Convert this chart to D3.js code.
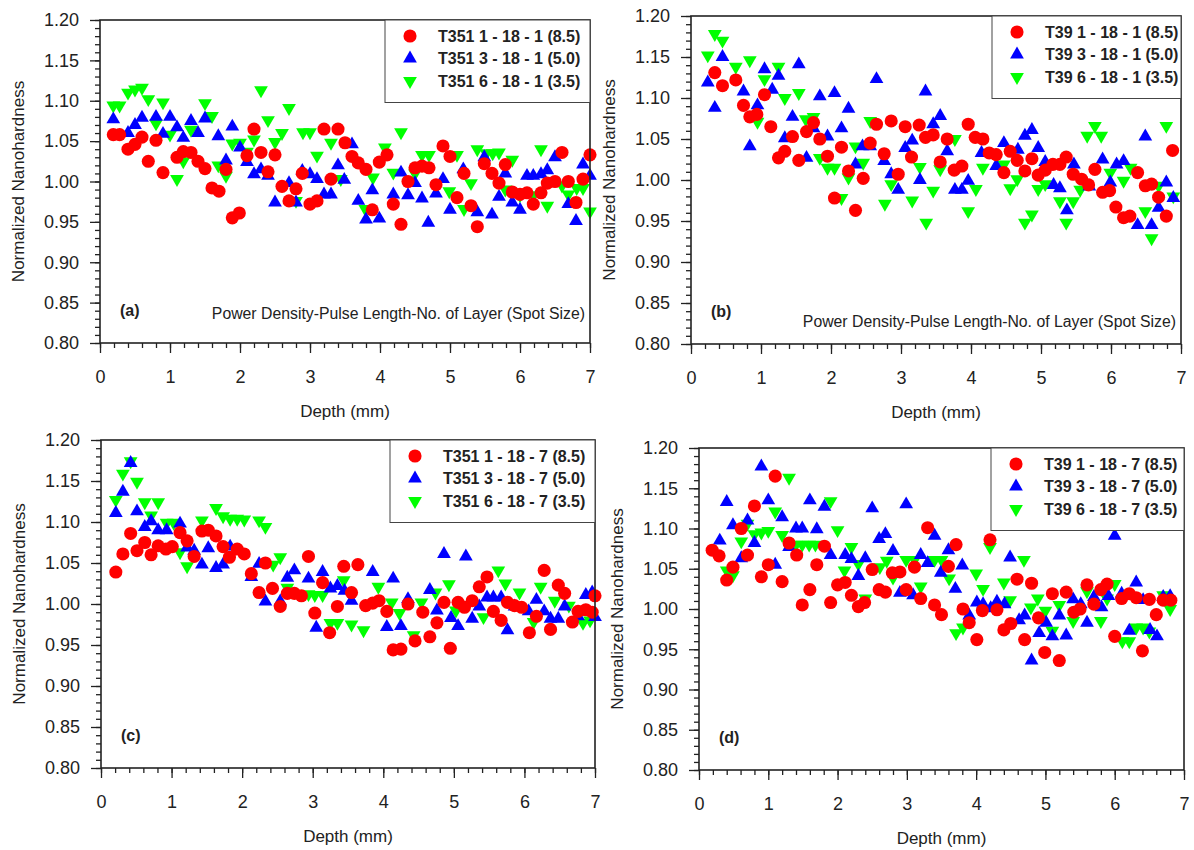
<!DOCTYPE html>
<html>
<head>
<meta charset="utf-8">
<script src="https://cdn.jsdelivr.net/npm/d3@7"></script>
<style>
  body { margin: 0; background: #fff; }
  svg { font-family: "Liberation Sans", Arial, sans-serif; }
</style>
</head>
<body>
<svg id="chart" width="1194" height="850"></svg>
<script>
// depth (mm), normalized nanohardness
const aRed = [[0.19,1.058],[0.28,1.058],[0.40,1.040],[0.50,1.046],[0.60,1.055],[0.69,1.025],[0.80,1.051],[0.90,1.011],[1.10,1.030],[1.19,1.037],[1.30,1.036],[1.40,1.025],[1.50,1.016],[1.60,0.992],[1.70,0.988],[1.80,1.015],[1.89,0.955],[1.99,0.961],[2.10,1.032],[2.20,1.065],[2.30,1.036],[2.40,1.012],[2.50,1.033],[2.60,0.994],[2.70,0.976],[2.80,0.991],[2.89,1.010],[3.00,0.972],[3.10,0.976],[3.20,1.065],[3.30,1.003],[3.40,1.065],[3.50,1.048],[3.60,1.031],[3.69,1.023],[3.80,1.015],[3.89,0.965],[3.99,1.024],[4.10,1.033],[4.19,0.972],[4.30,0.947],[4.40,1.000],[4.50,1.017],[4.60,1.019],[4.70,1.017],[4.80,0.996],[4.90,1.044],[5.00,1.031],[5.10,0.980],[5.20,1.010],[5.30,0.970],[5.39,0.944],[5.49,1.022],[5.60,1.010],[5.70,0.998],[5.79,1.021],[5.89,0.987],[6.00,0.984],[6.10,0.986],[6.19,0.972],[6.30,0.986],[6.39,0.998],[6.50,1.000],[6.60,1.036],[6.69,1.000],[6.80,0.974],[6.90,1.003],[7.00,1.033]];
const aBlue = [[0.19,1.077],[0.40,1.060],[0.50,1.070],[0.60,1.079],[0.80,1.080],[0.90,1.059],[1.00,1.080],[1.10,1.067],[1.19,1.054],[1.30,1.075],[1.40,1.060],[1.50,1.078],[1.69,1.056],[1.80,1.026],[1.89,1.068],[2.00,1.042],[2.10,1.024],[2.20,1.009],[2.30,1.015],[2.40,1.007],[2.50,0.974],[2.70,0.998],[2.80,0.974],[2.89,1.013],[3.00,1.009],[3.10,1.003],[3.20,0.984],[3.30,0.984],[3.40,1.020],[3.49,1.002],[3.60,1.046],[3.69,0.976],[3.80,0.953],[3.89,0.989],[3.99,0.954],[4.19,0.984],[4.30,1.011],[4.40,0.983],[4.50,0.998],[4.60,0.979],[4.69,0.949],[4.80,0.985],[4.90,1.003],[5.00,0.965],[5.19,1.015],[5.39,0.962],[5.49,1.030],[5.60,0.959],[5.70,0.981],[5.79,1.010],[5.89,0.974],[6.00,0.965],[6.10,1.007],[6.19,1.007],[6.30,1.009],[6.39,1.014],[6.50,1.030],[6.69,0.972],[6.80,0.951],[6.90,1.021],[7.00,1.007]];
const aGreen = [[0.19,1.094],[0.28,1.094],[0.40,1.110],[0.50,1.114],[0.60,1.116],[0.69,1.102],[0.80,1.072],[0.90,1.098],[1.00,1.058],[1.10,1.003],[1.19,1.025],[1.30,1.064],[1.50,1.097],[1.60,1.081],[1.69,1.020],[1.80,1.007],[1.89,1.047],[2.00,1.048],[2.10,1.037],[2.20,1.052],[2.30,1.113],[2.40,1.076],[2.50,1.049],[2.60,1.060],[2.70,1.091],[2.80,0.976],[2.90,1.061],[3.00,1.061],[3.10,1.032],[3.30,1.048],[3.44,1.003],[3.79,0.966],[3.90,1.005],[4.07,1.042],[4.19,1.011],[4.30,1.061],[4.50,1.010],[4.60,1.033],[4.70,1.033],[4.99,0.988],[5.10,1.033],[5.20,0.966],[5.30,0.998],[5.39,1.040],[5.52,1.035],[5.61,1.035],[5.70,1.036],[5.79,0.990],[5.89,1.027],[6.00,0.983],[6.19,0.983],[6.30,1.040],[6.39,0.970],[6.60,0.995],[6.69,0.984],[6.81,0.992],[6.90,0.992],[7.00,0.963]];

const bRed = [[0.34,1.131],[0.45,1.115],[0.64,1.122],[0.75,1.091],[0.84,1.077],[0.94,1.080],[1.05,1.104],[1.14,1.065],[1.25,1.027],[1.34,1.035],[1.45,1.053],[1.54,1.024],[1.65,1.059],[1.75,1.070],[1.84,1.050],[1.95,1.029],[2.05,0.978],[2.15,1.040],[2.25,1.011],[2.35,0.963],[2.46,1.002],[2.56,1.045],[2.65,1.068],[2.76,1.032],[2.86,1.072],[2.96,1.007],[3.06,1.065],[3.15,1.028],[3.26,1.067],[3.35,1.052],[3.46,1.055],[3.56,1.022],[3.66,1.050],[3.76,1.012],[3.87,1.017],[3.96,1.068],[4.06,1.052],[4.17,1.050],[4.26,1.033],[4.36,1.031],[4.47,1.009],[4.56,1.035],[4.66,1.024],[4.77,1.011],[4.87,1.026],[4.96,1.006],[5.06,1.012],[5.17,1.019],[5.27,1.019],[5.36,1.028],[5.46,1.007],[5.58,1.001],[5.68,0.994],[5.77,1.013],[5.88,0.985],[5.98,0.987],[6.07,0.967],[6.18,0.954],[6.27,0.956],[6.38,1.009],[6.49,0.993],[6.58,0.995],[6.68,0.979],[6.79,0.956],[6.88,1.036]];
const bBlue = [[0.24,1.119],[0.34,1.088],[0.45,1.150],[0.75,1.108],[0.84,1.041],[0.95,1.091],[1.05,1.135],[1.16,1.110],[1.25,1.127],[1.34,1.051],[1.45,1.077],[1.54,1.141],[1.65,1.027],[1.75,1.063],[1.84,1.102],[1.95,1.053],[2.05,1.106],[2.15,1.063],[2.25,1.087],[2.35,1.019],[2.45,1.041],[2.56,1.041],[2.65,1.123],[2.76,1.023],[2.86,1.007],[2.96,0.988],[3.06,1.039],[3.16,1.048],[3.27,1.000],[3.35,1.108],[3.46,1.068],[3.56,1.078],[3.66,1.035],[3.77,0.988],[3.87,0.988],[3.96,0.999],[4.15,1.033],[4.36,1.017],[4.47,1.045],[4.67,1.037],[4.77,1.054],[4.87,1.061],[4.96,1.039],[5.06,1.022],[5.18,0.994],[5.27,0.990],[5.37,0.963],[5.47,1.019],[5.69,0.992],[5.88,1.025],[5.99,0.997],[6.08,1.019],[6.18,1.023],[6.38,0.945],[6.49,1.053],[6.58,0.945],[6.68,0.966],[6.79,0.997],[6.89,0.978]];
const bGreen = [[0.24,1.152],[0.34,1.178],[0.45,1.170],[0.64,1.138],[0.84,1.146],[0.95,1.071],[1.05,1.123],[1.25,1.138],[1.34,1.100],[1.54,1.106],[1.64,1.074],[1.75,1.077],[1.84,1.027],[1.95,1.015],[2.05,1.015],[2.15,0.978],[2.25,1.003],[2.35,1.041],[2.46,1.021],[2.56,1.072],[2.77,0.971],[2.86,0.995],[3.16,0.975],[3.27,1.016],[3.36,0.948],[3.46,0.987],[3.56,1.013],[3.77,1.050],[3.96,0.962],[4.07,0.989],[4.17,1.015],[4.47,1.019],[4.56,0.990],[4.66,1.001],[4.77,0.948],[4.87,0.958],[4.96,0.989],[5.06,0.995],[5.27,0.974],[5.36,0.948],[5.46,0.974],[5.56,0.988],[5.66,1.054],[5.77,1.066],[5.86,1.054],[5.99,1.009],[6.18,0.999],[6.28,1.015],[6.49,0.962],[6.58,0.929],[6.68,0.993],[6.79,1.066],[6.89,0.980]];

const cRed = [[0.21,1.039],[0.31,1.061],[0.42,1.086],[0.51,1.065],[0.62,1.075],[0.71,1.060],[0.81,1.071],[0.92,1.067],[1.01,1.070],[1.12,1.087],[1.22,1.077],[1.32,1.058],[1.43,1.089],[1.52,1.090],[1.63,1.083],[1.73,1.070],[1.82,1.057],[1.93,1.067],[2.03,1.061],[2.13,1.037],[2.24,1.014],[2.33,1.050],[2.43,1.019],[2.54,0.997],[2.64,1.013],[2.74,1.013],[2.84,1.010],[2.94,1.058],[3.03,0.989],[3.14,1.026],[3.24,0.965],[3.35,0.997],[3.44,1.046],[3.55,1.014],[3.64,1.048],[3.75,0.998],[3.85,1.001],[3.94,1.004],[4.05,0.991],[4.14,0.944],[4.25,0.945],[4.35,1.000],[4.45,0.955],[4.56,0.990],[4.66,0.960],[4.76,0.977],[4.86,1.002],[4.95,0.946],[5.06,1.002],[5.15,0.996],[5.26,1.004],[5.36,1.021],[5.47,1.033],[5.56,0.991],[5.67,0.980],[5.76,1.002],[5.86,0.998],[5.96,0.996],[6.07,0.965],[6.17,0.985],[6.28,1.041],[6.37,0.969],[6.48,1.023],[6.57,1.013],[6.68,0.978],[6.76,0.991],[6.87,0.993],[6.96,0.990],[7.00,1.010]];
const cBlue = [[0.21,1.111],[0.31,1.137],[0.42,1.172],[0.51,1.113],[0.62,1.094],[0.71,1.101],[0.81,1.090],[0.93,1.090],[1.12,1.098],[1.22,1.069],[1.32,1.065],[1.43,1.048],[1.52,1.068],[1.63,1.044],[1.73,1.048],[1.83,1.070],[2.13,1.033],[2.24,1.049],[2.33,1.003],[2.54,1.003],[2.64,1.032],[2.74,1.041],[2.94,1.031],[3.05,0.971],[3.14,1.039],[3.25,1.019],[3.35,1.022],[3.45,1.016],[3.55,1.004],[3.85,1.039],[4.05,0.972],[4.14,1.031],[4.25,0.973],[4.35,1.006],[4.66,1.017],[4.76,0.992],[4.86,1.061],[4.96,0.983],[5.06,0.973],[5.17,1.058],[5.26,0.982],[5.36,0.997],[5.47,1.008],[5.56,1.008],[5.67,1.008],[5.76,0.968],[5.86,0.997],[6.06,0.991],[6.17,1.005],[6.28,0.991],[6.37,0.982],[6.48,0.982],[6.57,0.997],[6.76,0.985],[6.87,1.011],[6.96,1.014],[7.00,0.984]];
const cGreen = [[0.21,1.127],[0.31,1.159],[0.42,1.174],[0.51,1.149],[0.62,1.124],[0.71,1.108],[0.81,1.124],[0.93,1.099],[1.03,1.099],[1.12,1.063],[1.22,1.046],[1.43,1.102],[1.63,1.117],[1.73,1.107],[1.83,1.104],[1.93,1.104],[2.03,1.103],[2.24,1.102],[2.33,1.094],[2.44,1.048],[2.54,1.057],[2.64,1.020],[2.94,1.012],[3.03,1.011],[3.14,1.011],[3.25,0.977],[3.35,0.977],[3.44,1.029],[3.55,0.975],[3.72,0.968],[3.93,1.021],[4.12,1.002],[4.23,0.989],[4.43,0.962],[4.54,1.002],[4.74,1.014],[4.93,1.024],[5.03,0.992],[5.42,0.984],[5.63,1.041],[5.73,1.025],[5.93,1.014],[6.13,0.978],[6.23,1.021],[6.43,1.004],[6.63,0.998],[6.83,0.977],[6.93,0.980]];

const dRed = [[0.19,1.073],[0.29,1.066],[0.40,1.036],[0.49,1.052],[0.61,1.100],[0.70,1.067],[0.80,1.128],[0.90,1.040],[1.00,1.055],[1.10,1.165],[1.20,1.034],[1.30,1.082],[1.41,1.067],[1.49,1.005],[1.60,1.024],[1.70,1.055],[1.81,1.078],[1.90,1.008],[2.00,1.030],[2.11,1.033],[2.20,1.017],[2.30,1.003],[2.39,1.008],[2.50,1.049],[2.60,1.024],[2.69,1.021],[2.79,1.045],[2.90,1.046],[2.99,1.024],[3.11,1.052],[3.20,1.013],[3.30,1.101],[3.40,1.005],[3.50,0.993],[3.60,1.053],[3.71,1.080],[3.81,1.000],[3.90,0.983],[4.01,0.962],[4.09,0.998],[4.20,1.086],[4.30,0.999],[4.40,0.974],[4.50,0.982],[4.59,1.037],[4.70,0.962],[4.80,1.032],[4.90,0.989],[4.99,0.946],[5.10,1.019],[5.20,0.936],[5.30,1.021],[5.41,0.996],[5.50,1.000],[5.60,1.030],[5.70,1.006],[5.80,1.024],[5.89,1.031],[6.00,0.966],[6.10,1.013],[6.21,1.019],[6.31,1.014],[6.40,0.948],[6.50,1.012],[6.60,0.993],[6.70,1.011],[6.81,1.011]];
const dBlue = [[0.30,1.085],[0.40,1.133],[0.49,1.104],[0.61,1.063],[0.70,1.110],[0.80,1.082],[0.90,1.177],[1.00,1.135],[1.10,1.055],[1.20,1.114],[1.30,1.077],[1.40,1.100],[1.49,1.100],[1.60,1.135],[1.70,1.099],[1.81,1.127],[1.90,1.067],[2.11,1.067],[2.20,1.062],[2.30,1.041],[2.40,1.063],[2.50,1.125],[2.60,1.087],[2.69,1.093],[2.80,1.072],[2.90,1.020],[2.99,1.130],[3.09,1.017],[3.20,1.067],[3.30,1.057],[3.40,1.091],[3.49,1.045],[3.60,1.073],[3.70,1.025],[3.80,1.054],[3.90,0.992],[4.01,1.008],[4.10,1.006],[4.21,1.001],[4.30,1.009],[4.41,1.006],[4.49,1.064],[4.62,0.986],[4.70,0.992],[4.80,0.936],[4.91,0.970],[5.01,0.983],[5.10,0.966],[5.20,0.992],[5.30,0.967],[5.40,1.012],[5.51,1.006],[5.60,0.983],[5.70,1.015],[5.81,1.002],[5.91,1.016],[6.00,1.091],[6.10,1.019],[6.21,0.973],[6.31,1.033],[6.41,1.011],[6.51,0.974],[6.61,0.966],[6.70,1.015],[6.80,1.016]];
const dGreen = [[0.40,1.048],[0.49,1.042],[0.61,1.084],[0.70,1.106],[0.80,1.093],[0.90,1.095],[1.00,1.097],[1.10,1.121],[1.20,1.092],[1.30,1.163],[1.40,1.080],[1.49,1.080],[1.59,1.080],[1.68,1.080],[1.90,1.134],[2.00,1.098],[2.10,1.048],[2.20,1.077],[2.30,1.056],[2.40,1.013],[2.61,1.052],[2.71,1.060],[2.80,1.039],[2.99,1.061],[3.11,1.061],[3.20,1.028],[3.40,1.061],[3.50,1.061],[3.61,1.038],[3.71,0.970],[3.81,0.977],[4.00,1.044],[4.10,1.025],[4.20,1.077],[4.40,1.033],[4.49,1.011],[4.69,1.061],[4.79,1.002],[4.89,1.013],[5.00,0.998],[5.10,0.973],[5.20,1.005],[5.40,0.985],[5.60,1.022],[5.80,0.985],[5.89,1.013],[6.00,1.031],[6.11,0.960],[6.21,0.960],[6.31,0.977],[6.41,0.977],[6.50,0.972],[6.70,1.017],[6.80,1.000]];

const aNames = ["T351 1 - 18 - 1 (8.5)", "T351 3 - 18 - 1 (5.0)", "T351 6 - 18 - 1 (3.5)"];
const bNames = ["T39 1 - 18 - 1 (8.5)", "T39 3 - 18 - 1 (5.0)", "T39 6 - 18 - 1 (3.5)"];
const cNames = ["T351 1 - 18 - 7 (8.5)", "T351 3 - 18 - 7 (5.0)", "T351 6 - 18 - 7 (3.5)"];
const dNames = ["T39 1 - 18 - 7 (8.5)", "T39 3 - 18 - 7 (5.0)", "T39 6 - 18 - 7 (3.5)"];

const yTicks = [0.80, 0.85, 0.90, 0.95, 1.00, 1.05, 1.10, 1.15, 1.20];
const yMinor = d3.range(80, 121).map(v => v / 100);
const xTicks = [0, 1, 2, 3, 4, 5, 6, 7];
const xMinor = d3.range(0, 36).map(v => v / 5);

const colors = ["#ff0000", "#0000ff", "#00ff00"];
const shapes = ["circle", "up", "down"];
const xTitle = "Depth (mm)";
const yTitle = "Normalized Nanohardness";
const noteText = "Power Density-Pulse Length-No. of Layer (Spot Size)";

const panels = [
  { tag: "(a)", x0: 100, x1: 590, y0: 20, y1: 343, data: [aRed, aBlue, aGreen], names: aNames, legendX: 385, noteY: 319 },
  { tag: "(b)", x0: 691, x1: 1181, y0: 16, y1: 344, data: [bRed, bBlue, bGreen], names: bNames, legendX: 992, noteY: 327 },
  { tag: "(c)", x0: 101, x1: 595, y0: 440, y1: 768, data: [cRed, cBlue, cGreen], names: cNames, legendX: 390 },
  { tag: "(d)", x0: 699, x1: 1184, y0: 448, y1: 770, data: [dRed, dBlue, dGreen], names: dNames, legendX: 991 }
];

const svg = d3.select("#chart");

const circlePath = d3.symbol().type(d3.symbolCircle).size(135)();
const triPath = d3.symbol().type(d3.symbolTriangle).size(82)();

function addMarker(sel, shape, color) {
  sel.append("path")
    .attr("d", shape === "circle" ? circlePath : triPath)
    .attr("fill", color)
    .attr("transform", shape === "down" ? "rotate(180)" : null);
}

function drawPanel(p) {
  const x = d3.scaleLinear().domain([0, 7]).range([p.x0, p.x1]);
  const y = d3.scaleLinear().domain([0.8, 1.2]).range([p.y1, p.y0]);
  const g = svg.append("g");

  const noDomain = a => a.select(".domain").remove();

  // minor ticks
  g.append("g")
    .attr("transform", `translate(${p.x0},0)`)
    .call(d3.axisLeft(y).tickValues(yMinor).tickSize(5).tickFormat(""))
    .call(noDomain);
  g.append("g")
    .attr("transform", `translate(0,${p.y1})`)
    .call(d3.axisBottom(x).tickValues(xMinor).tickSize(5).tickFormat(""))
    .call(noDomain);

  // major ticks + labels
  const yAxis = g.append("g")
    .attr("transform", `translate(${p.x0},0)`)
    .call(d3.axisLeft(y).tickValues(yTicks).tickSize(10).tickPadding(11).tickFormat(d3.format(".2f")))
    .call(noDomain);
  const xAxis = g.append("g")
    .attr("transform", `translate(0,${p.y1})`)
    .call(d3.axisBottom(x).tickValues(xTicks).tickSize(10).tickPadding(17).tickFormat(d3.format("d")))
    .call(noDomain);
  [yAxis, xAxis].forEach(a => {
    a.selectAll("text").attr("font-size", 18).attr("fill", "#222")
      .attr("font-family", "'Liberation Sans', Arial, sans-serif");
  });
  g.selectAll(".tick line").attr("stroke", "#222").attr("stroke-width", 1.3);

  // markers: green first, red on top
  [2, 1, 0].forEach(i => {
    g.append("g").selectAll("g")
      .data(p.data[i])
      .join("g")
      .attr("transform", d => `translate(${x(d[0])},${y(d[1])})`)
      .each(function () { addMarker(d3.select(this), shapes[i], colors[i]); });
  });

  // frame
  g.append("rect")
    .attr("x", p.x0).attr("y", p.y0)
    .attr("width", p.x1 - p.x0).attr("height", p.y1 - p.y0)
    .attr("fill", "none").attr("stroke", "#222").attr("stroke-width", 1.6);

  // legend
  const lg = g.append("g");
  const rowH = 22.5;
  lg.append("rect")
    .attr("x", p.legendX).attr("y", p.y0)
    .attr("width", p.x1 - p.legendX).attr("height", 15 + rowH * 3)
    .attr("fill", "#fff").attr("stroke", "#444").attr("stroke-width", 1);
  p.names.forEach((name, i) => {
    const ry = p.y0 + 16 + i * rowH;
    const m = lg.append("g").attr("transform", `translate(${p.legendX + 25},${ry})`);
    addMarker(m, shapes[i], colors[i]);
    lg.append("text")
      .attr("x", p.legendX + 53).attr("y", ry)
      .attr("dy", "0.36em")
      .attr("font-size", 16).attr("font-weight", "bold").attr("fill", "#222")
      .text(name);
  });

  // panel tag
  g.append("text")
    .attr("x", p.x0 + 20).attr("y", p.y1 - 27)
    .attr("font-size", 16).attr("font-weight", "bold").attr("fill", "#222")
    .text(p.tag);

  if (p.noteY) {
    g.append("text")
      .attr("x", p.x1 - 5).attr("y", p.noteY)
      .attr("text-anchor", "end")
      .attr("font-size", 15.8).attr("fill", "#222")
      .text(noteText);
  }

  // axis titles
  g.append("text")
    .attr("x", (p.x0 + p.x1) / 2).attr("y", p.y1 + 74)
    .attr("text-anchor", "middle")
    .attr("font-size", 17).attr("fill", "#222")
    .text(xTitle);
  g.append("text")
    .attr("transform", `translate(${p.x0 - 76},${(p.y0 + p.y1) / 2}) rotate(-90)`)
    .attr("text-anchor", "middle")
    .attr("font-size", 17).attr("fill", "#222")
    .text(yTitle);
}

panels.forEach(drawPanel);
</script>
</body>
</html>
